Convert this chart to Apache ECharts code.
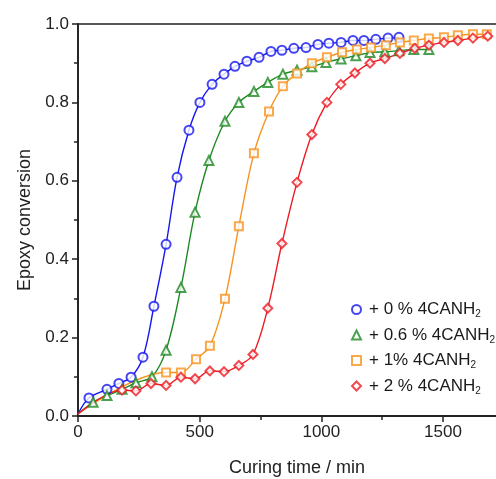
<!DOCTYPE html>
<html>
<head>
<meta charset="utf-8">
<script src="https://cdn.jsdelivr.net/npm/echarts@6/dist/echarts.min.js"></script>
<style>
  html, body { margin: 0; padding: 0; background: #fff; }
  #container { width: 496px; height: 479px; }
</style>
</head>
<body>
<div id="container"></div>
<script>
// values
var names = ['+ 0 % 4CANH2', '+ 0.6 % 4CANH2', '+ 1% 4CANH2', '+ 2 % 4CANH2'];

var blueX = [45, 119, 168, 218, 267, 312, 362, 407, 456, 501, 551, 600, 645, 694, 744, 793, 838, 887, 937, 986, 1031, 1081, 1130, 1175, 1224, 1274, 1319];
var blueY = [0.046, 0.068, 0.083, 0.099, 0.15, 0.28, 0.438, 0.609, 0.729, 0.80, 0.846, 0.872, 0.892, 0.905, 0.915, 0.93, 0.933, 0.938, 0.94, 0.948, 0.951, 0.953, 0.958, 0.958, 0.961, 0.964, 0.966];

var greenX = [62, 119, 181, 238, 304, 362, 423, 481, 538, 604, 661, 723, 780, 842, 900, 961, 1019, 1081, 1142, 1200, 1261, 1319, 1380, 1442];
var greenY = [0.035, 0.052, 0.068, 0.085, 0.10, 0.168, 0.328, 0.52, 0.652, 0.752, 0.80, 0.828, 0.851, 0.872, 0.882, 0.891, 0.902, 0.911, 0.919, 0.927, 0.929, 0.932, 0.935, 0.935];

var orangeX = [362, 423, 485, 542, 604, 661, 723, 785, 842, 900, 961, 1023, 1085, 1146, 1204, 1265, 1323, 1380, 1442, 1504, 1561, 1623, 1680];
var orangeY = [0.111, 0.111, 0.145, 0.179, 0.299, 0.484, 0.67, 0.777, 0.841, 0.874, 0.90, 0.915, 0.928, 0.935, 0.94, 0.946, 0.953, 0.958, 0.963, 0.966, 0.971, 0.974, 0.974];

var redX = [181, 238, 300, 362, 423, 481, 542, 600, 661, 719, 780, 838, 900, 961, 1023, 1080, 1138, 1200, 1261, 1323, 1384, 1442, 1504, 1561, 1623, 1684];
var redY = [0.066, 0.064, 0.083, 0.078, 0.099, 0.095, 0.115, 0.113, 0.129, 0.157, 0.275, 0.44, 0.596, 0.718, 0.80, 0.846, 0.875, 0.90, 0.912, 0.925, 0.938, 0.946, 0.953, 0.958, 0.964, 0.969];

// the fitted curves all start from the origin
var fitStart = [0, 0.005];

var xTicks = [0, 500, 1000, 1500];
var yTicks = [0.0, 0.2, 0.4, 0.6, 0.8, 1.0];

var colors = ['#1616f0', '#1f8a24', '#f7931e', '#ec1c24'];
var symbols = ['emptyCircle', 'emptyTriangle', 'emptyRect', 'emptyDiamond'];

function pairs(xs, ys) {
    return xs.map(function (x, i) { return [x, ys[i]]; });
}

var sets = [pairs(blueX, blueY), pairs(greenX, greenY), pairs(orangeX, orangeY), pairs(redX, redY)];

var dom = document.getElementById('container');
var myChart = echarts.init(dom, null, { renderer: 'canvas' });

var series = [];
// fit lines first, markers on top
sets.forEach(function (d, i) {
    series.push({
        name: 'fit' + i,
        type: 'line',
        data: [fitStart].concat(d),
        smooth: 0.35,
        showSymbol: false,
        symbol: 'none',
        lineStyle: { color: colors[i], width: 1.4 },
        z: 2,
        silent: true
    });
});
sets.forEach(function (d, i) {
    series.push({
        name: names[i],
        type: 'scatter',
        data: d,
        symbol: symbols[i],
        symbolSize: i == 2 ? 8 : 9,
        itemStyle: { color: colors[i], borderColor: colors[i], borderWidth: 1.6 },
        z: 3
    });
});

var axisColor = '#222';
var font = 'Liberation Sans, Arial, sans-serif';

var option = {
    animation: false,
    backgroundColor: '#fff',
    grid: {
        left: 78,
        top: 24,
        right: -20,
        bottom: 63,
        outerBoundsMode: 'none',
        containLabel: false,
        show: true,
        borderColor: axisColor,
        borderWidth: 1.5
    },
    legend: {
        data: names,
        orient: 'vertical',
        left: 346,
        top: 296,
        itemWidth: 9,
        itemHeight: 9,
        itemGap: 7,
        textStyle: {
            fontFamily: font,
            fontSize: 17,
            color: '#1a1a1a',
            rich: {
                t: { fontFamily: font, fontSize: 17, color: '#1a1a1a', padding: [0, 0, 0, 3] },
                s: { fontFamily: font, fontSize: 10, color: '#1a1a1a', padding: [10, 0, 0, 0] }
            }
        },
        formatter: function (name) {
            return '{t|' + name.slice(0, -1) + '}{s|' + name.slice(-1) + '}';
        }
    },
    xAxis: {
        type: 'value',
        min: 0,
        max: 1800,
        interval: 500,
        name: 'Curing time / min',
        nameLocation: 'middle',
        nameGap: 43,
        nameTextStyle: { fontFamily: font, fontSize: 18, color: '#222' },
        axisLine: { show: true, lineStyle: { color: axisColor, width: 1.8 } },
        axisTick: { show: true, inside: false, length: 6, lineStyle: { color: axisColor, width: 1.5 } },
        minorTick: { show: true, splitNumber: 2, length: 4, lineStyle: { color: axisColor, width: 1.5 } },
        splitLine: { show: false },
        axisLabel: {
            fontFamily: font, fontSize: 17, color: '#222', margin: 8,
            formatter: function (v) { return xTicks.indexOf(v) >= 0 ? String(v) : ''; }
        }
    },
    yAxis: {
        type: 'value',
        min: 0,
        max: 1,
        interval: 0.2,
        name: 'Epoxy conversion',
        nameLocation: 'middle',
        nameGap: 42,
        nameTextStyle: { fontFamily: font, fontSize: 18, color: '#222' },
        axisLine: { show: true, lineStyle: { color: axisColor, width: 1.8 } },
        axisTick: { show: true, inside: false, length: 6, lineStyle: { color: axisColor, width: 1.5 } },
        minorTick: { show: true, splitNumber: 2, length: 4, lineStyle: { color: axisColor, width: 1.5 } },
        splitLine: { show: false },
        axisLabel: {
            fontFamily: font, fontSize: 17, color: '#222', margin: 9,
            formatter: function (v) {
                var t = yTicks.filter(function (k) { return Math.abs(k - v) < 1e-6; });
                return t.length ? t[0].toFixed(1) : '';
            }
        }
    },
    series: series
};

myChart.setOption(option);
window.addEventListener('resize', myChart.resize);
</script>
</body>
</html>
